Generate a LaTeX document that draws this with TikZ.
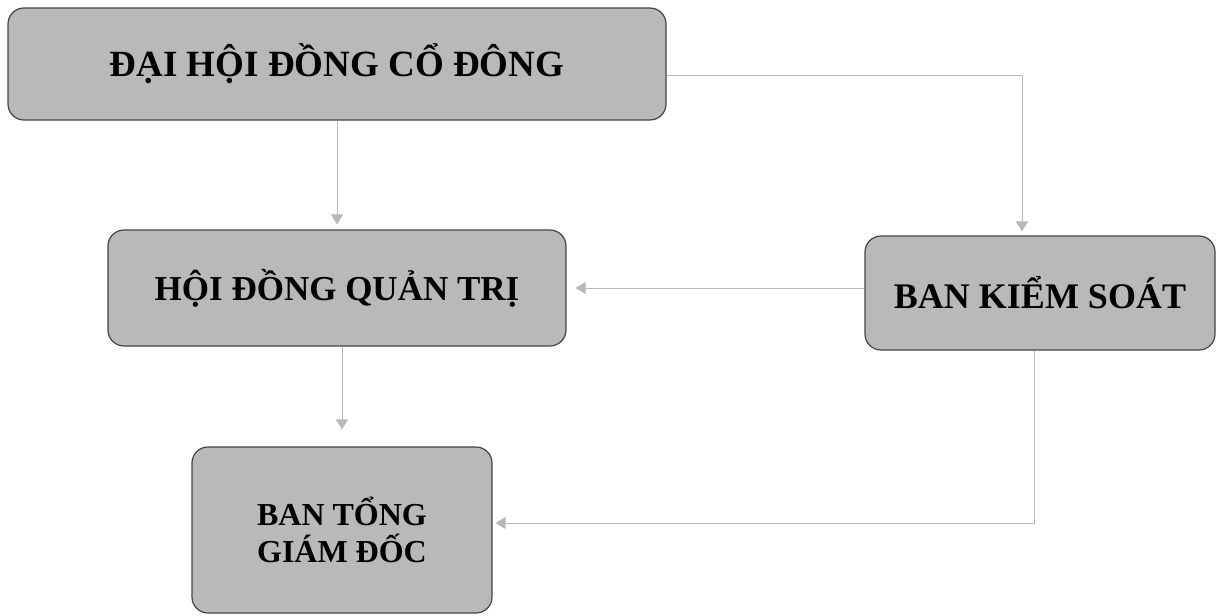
\documentclass[tikz,border=0pt]{standalone}
\usepackage{fontspec}
\setmainfont{Liberation Serif}
\usetikzlibrary{arrows.meta,calc}
\definecolor{boxfill}{HTML}{B9B9B9}
\definecolor{boxline}{HTML}{454545}
\definecolor{conn}{HTML}{B8B8B8}
\tikzset{
  orgbox/.style={draw=boxline, line width=1.2pt, fill=boxfill, rounded corners=16pt,
    inner sep=0pt, align=center, text=black, font=\bfseries\fontsize{35}{37}\selectfont},
  conarrow/.style={draw=conn, line width=0.8pt, -{Triangle[width=12pt,length=10pt,fill=conn]}},
}
\begin{document}
\begin{tikzpicture}[x=1pt,y=-1pt]
\useasboundingbox[fill=white] (0,0) rectangle (1219,616);
\node[orgbox, minimum width=658pt, minimum height=112pt, font=\bfseries\fontsize{37}{39}\selectfont] (dh) at (337,64) {ĐẠI HỘI ĐỒNG CỔ ĐÔNG};
\node[orgbox, minimum width=458pt, minimum height=116pt] (hd) at (337,288) {HỘI ĐỒNG QUẢN TRỊ};
\node[orgbox, minimum width=350pt, minimum height=114pt, font=\bfseries\fontsize{36}{38}\selectfont] (bks) at (1040,293) {BAN KIỂM SOÁT};
\node[orgbox, minimum width=300pt, minimum height=166pt, font=\bfseries\fontsize{32}{37}\selectfont] (btgd) at (342,530) {BAN TỔNG\\GIÁM ĐỐC};
\coordinate (c1) at ([yshift=-11pt]dh.east);
\coordinate (c2) at ([xshift=-18pt]bks.north);
\coordinate (c3) at ([xshift=-6pt]bks.south);
\coordinate (c4) at ([yshift=7pt]btgd.east);
\draw[conarrow, shorten >=4pt] (c1) -| (c2);
\draw[conarrow, shorten >=5pt] (dh.south) -- (hd.north);
\draw[conarrow, shorten >=9pt] (bks.west |- hd.east) -- (hd.east);
\draw[conarrow, shorten >=17pt] (btgd.north |- hd.south) -- (btgd.north);
\draw[conarrow, shorten >=3pt] (c3) |- (c4);
\end{tikzpicture}
\end{document}
